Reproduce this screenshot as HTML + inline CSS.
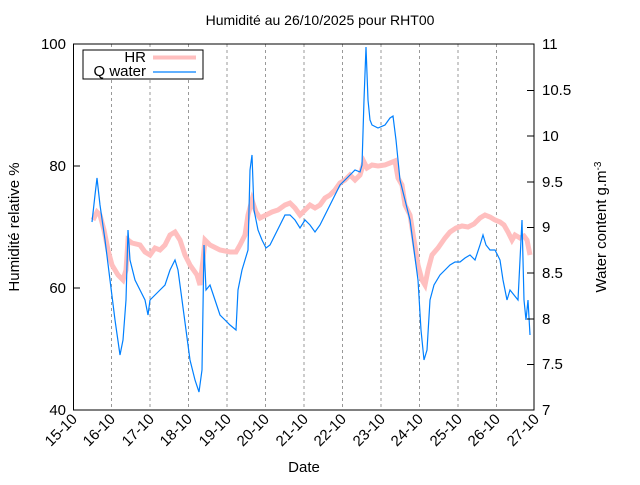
<!DOCTYPE html>
<html><head><meta charset="utf-8"><style>
body{margin:0;background:#fff;}
svg text{font-family:"Liberation Sans",sans-serif;fill:#000;}
</style></head><body>
<svg width="640" height="480" xmlns="http://www.w3.org/2000/svg">
<rect width="640" height="480" fill="#fff"/>
<text x="320" y="25" font-size="14" text-anchor="middle">Humidité au 26/10/2025 pour RHT00</text>
<g stroke="#999" stroke-dasharray="3,3" stroke-width="1">
<line x1="111.5" y1="44" x2="111.5" y2="410"/><line x1="150" y1="44" x2="150" y2="410"/><line x1="188.5" y1="44" x2="188.5" y2="410"/><line x1="227" y1="44" x2="227" y2="410"/><line x1="265.5" y1="44" x2="265.5" y2="410"/><line x1="304" y1="44" x2="304" y2="410"/><line x1="342.5" y1="44" x2="342.5" y2="410"/><line x1="381" y1="44" x2="381" y2="410"/><line x1="419.5" y1="44" x2="419.5" y2="410"/><line x1="458" y1="44" x2="458" y2="410"/><line x1="496.5" y1="44" x2="496.5" y2="410"/>
</g>
<polyline fill="none" stroke="#ffbfbf" stroke-width="5" points="93,220 97,212 100,215 104,230 108,250 112,265 118,275 123,280 126,270 128,240 132,243 140,245 145,252 150,255 155,248 160,250 165,245 170,235 175,232 180,240 185,255 190,265 197,275 200,285 203,260 205,240 210,245 220,250 230,252 236,252 240,245 245,235 248,215 252,200 256,212 260,218 266,215 272,212 278,210 285,205 290,203 295,208 300,215 305,210 310,205 315,208 320,205 325,198 330,195 335,190 340,183 345,180 350,175 355,180 360,175 364,162 367,168 372,165 378,166 385,165 390,163 395,161 398,178 402,185 405,205 410,215 414,240 418,265 422,280 425,285 428,270 432,255 438,248 445,238 450,232 456,228 462,226 468,227 474,224 480,218 485,215 490,217 495,220 500,222 504,225 508,232 512,240 515,235 520,238 524,236 527,240 530,255"/>
<polyline fill="none" stroke="#0080ff" stroke-width="1.2" points="92,222 95,195 97,178 100,205 105,240 110,280 115,320 120,355 123,340 126,300 128,230 130,260 135,280 140,290 145,300 148,315 150,300 155,295 160,290 165,285 170,270 175,260 178,270 182,300 186,330 190,360 195,380 199,392 202,370 204,245 206,290 210,285 215,300 220,315 225,320 230,325 236,330 238,290 242,270 248,250 250,170 252,155 254,210 258,230 262,240 266,248 270,245 275,235 280,225 285,215 290,215 295,220 300,228 305,220 310,225 315,232 320,225 325,215 330,205 335,195 340,185 345,180 350,175 355,170 360,172 362,165 364,100 366,47 368,100 370,120 372,125 378,128 385,125 390,118 393,116 396,140 400,180 405,200 410,220 414,250 418,280 421,330 424,360 427,350 430,300 434,285 440,275 445,270 450,265 455,262 460,262 465,258 470,255 475,260 480,245 483,235 486,245 490,250 495,250 500,260 503,280 507,300 510,290 514,295 518,300 520,260 522,220 524,300 526,320 528,300 530,335"/>
<rect x="73.5" y="44" width="460.5" height="366" fill="none" stroke="#000" stroke-width="1"/>
<g stroke="#000" stroke-width="1">
<line x1="73" y1="166" x2="80" y2="166"/><line x1="73" y1="288" x2="80" y2="288"/>
<line x1="534" y1="90.5" x2="527" y2="90.5"/><line x1="534" y1="136" x2="527" y2="136"/><line x1="534" y1="182" x2="527" y2="182"/><line x1="534" y1="227.5" x2="527" y2="227.5"/><line x1="534" y1="273" x2="527" y2="273"/><line x1="534" y1="319" x2="527" y2="319"/><line x1="534" y1="364.5" x2="527" y2="364.5"/>
</g>
<g id="tk" stroke="#000" stroke-width="1"></g>
<script>
var g=document.getElementById('tk'),s='';
for(var i=0;i<=48;i++){var x=73.5+i*38.5/4;var l=(i%4==0)?7:4;s+='<line x1="'+x+'" y1="410" x2="'+x+'" y2="'+(410-l)+'"/><line x1="'+x+'" y1="44" x2="'+x+'" y2="'+(44+l)+'"/>';}
g.innerHTML=s;
</script>
<g font-size="15" text-anchor="end">
<text x="66" y="49">100</text><text x="66" y="171">80</text><text x="66" y="293">60</text><text x="66" y="415">40</text>
</g>
<g font-size="15" text-anchor="start">
<text x="542" y="49">11</text><text x="542" y="95">10.5</text><text x="542" y="141">10</text><text x="542" y="187">9.5</text><text x="542" y="232">9</text><text x="542" y="278">8.5</text><text x="542" y="324">8</text><text x="542" y="369">7.5</text><text x="542" y="415">7</text>
</g>
<g font-size="15" text-anchor="end">
<text transform="translate(78,420) rotate(-45)">15-10</text><text transform="translate(116,420) rotate(-45)">16-10</text><text transform="translate(155,420) rotate(-45)">17-10</text><text transform="translate(193,420) rotate(-45)">18-10</text><text transform="translate(232,420) rotate(-45)">19-10</text><text transform="translate(270,420) rotate(-45)">20-10</text><text transform="translate(309,420) rotate(-45)">21-10</text><text transform="translate(347,420) rotate(-45)">22-10</text><text transform="translate(386,420) rotate(-45)">23-10</text><text transform="translate(424,420) rotate(-45)">24-10</text><text transform="translate(463,420) rotate(-45)">25-10</text><text transform="translate(501,420) rotate(-45)">26-10</text><text transform="translate(540,420) rotate(-45)">27-10</text>
</g>
<text x="304" y="472" font-size="15" text-anchor="middle">Date</text>
<text transform="translate(19,227) rotate(-90)" font-size="15" text-anchor="middle">Humidité relative %</text>
<text transform="translate(606,227) rotate(-90)" font-size="15" text-anchor="middle">Water content g.m<tspan dy="-5" font-size="10">-3</tspan></text>
<rect x="83" y="50" width="120" height="29" fill="#fff" stroke="#000" stroke-width="1"/>
<text x="146" y="62" font-size="15" text-anchor="end">HR</text>
<line x1="153" y1="57.5" x2="196" y2="57.5" stroke="#ffbfbf" stroke-width="4"/>
<text x="146" y="76" font-size="15" text-anchor="end">Q water</text>
<line x1="153" y1="72" x2="196" y2="72" stroke="#0080ff" stroke-width="1.2"/>
</svg>
</body></html>
